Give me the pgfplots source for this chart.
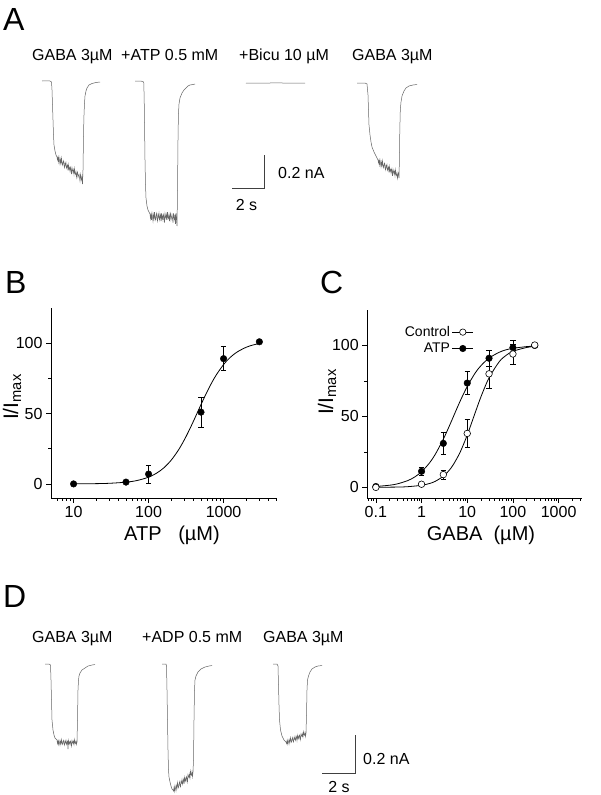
\documentclass[border=0pt]{standalone}
\usepackage{pgfplots}
\pgfplotsset{compat=1.18}
\usepackage{fontspec}
\setmainfont{Liberation Sans}
\newcommand{\fs}[1]{\fontsize{#1}{#1}\selectfont}
\pgfplotsset{
  trace/.style={black!60, line width=0.5pt},
  scalebar/.style={black!75, line width=0.7pt},
  dr/.style={scale only axis, axis x line*=bottom, axis y line*=left,
    axis line style={-, line width=0.8pt}, tick align=outside,
    major tick length=5pt, minor tick length=3pt,
    every tick/.style={black, line width=0.6pt},
    tick label style={font=\fs{16}}, /pgf/number format/assume math mode=true,
    ytick={0,50,100}, minor ytick={25,75}, clip=false},
  fit/.style={black, line width=0.8pt, smooth},
  ebar/.style={error bars/.cd, y dir=both, y explicit,
    error bar style={line width=0.6pt, black},
    error mark options={rotate=90, mark size=2.6pt, line width=0.6pt, black}},
}
\tikzset{lab/.style={inner sep=0pt, font=\fs{16}}}
\begin{document}
\begin{tikzpicture}[x=1pt,y=1pt]
\useasboundingbox (0,0) rectangle (600,795);
% ---------- background axis in pixel coordinates (traces, labels) ----------
\begin{axis}[at={(0pt,0pt)}, anchor=south west, width=600pt, height=795pt, scale only axis,
  xmin=0, xmax=600, ymin=0, ymax=795, y dir=reverse, hide axis, clip=false]
% Panel A traces
\addplot[trace] coordinates {(42,81)(46,80.8)(50,81)(51.5,82)(52,90)(52.5,105)(53,120)(53.5,135)(54,145)(55,151)(56,155)(57,157)
 (57.5,160)(58,157.4)(58.5,161.8)(59,157.2)(59.5,160.6)(60,164)(60.5,159.4)(61,162.8)(61.5,158.2)(62,162.6)(62.5,165)(63,162.4)(63.5,160.8)(64,165.2)(64.5,167.6)(65,163)(65.5,165.4)(66,162.8)(66.5,168.2)(67,166.6)(67.5,165)(68,170.4)(68.5,164.8)(69,169.2)(69.5,167.6)(70,171)(70.5,167.4)(71,169.8)(71.5,174.2)(72,167.6)(72.5,170)(73,172.4)(73.5,169.8)(74,174.2)(74.5,168.6)(75,173)(75.5,174.4)(76,171.8)(76.5,177.2)(77,173.6)(77.5,172)(78,177.4)(78.5,175.8)(79,174.2)(79.5,177.6)(80,181)(80.5,174.4)(81,177.8)(81.5,180.2)(82,176.6)(82.5,184)
 (83,170)(83.3,150)(83.6,130)(84,115)(84.5,103)(85,96)(86,91)(87,88)(89,85)(92,83.5)(96,82.5)(100,82)};
\addplot[trace] coordinates {(135,81)(140,81)(143,81.5)(143.8,83)(144.2,100)(144.6,130)(145,160)(145.5,185)(146,198)(147,206)(148,210)(150,214)
 (150.5,218.6)(151,214.7)(151.5,219.9)(152,213.4)(152.5,217.3)(153,221.2)(153.5,214.7)(154,218.6)(154.5,212.1)(155,217.3)(155.5,219.9)(156,216)(156.5,213.4)(157,218.6)(157.5,221.2)(158,214.7)(158.5,217.3)(159,213.4)(159.5,219.9)(160,217.3)(160.5,214.7)(161,221.2)(161.5,213.4)(162,218.6)(162.5,216)(163,219.9)(163.5,214.7)(164,217.3)(164.5,222.5)(165,213.4)(165.5,216)(166,218.6)(166.5,214.7)(167,219.9)(167.5,212.1)(168,217.3)(168.5,218.6)(169,214.7)(169.5,221.2)(170,216)(170.5,213.4)(171,219.9)(171.5,217.3)(172,214.7)(172.5,218.6)(173,222.5)(173.5,213.4)(174,217.3)(174.5,219.9)(175,214.7)(175.5,223.8)(176,213.4)(176.5,219.9)(177,226)
 (177.4,200)(177.7,170)(178,140)(178.4,115)(179,104)(180,98)(182,93)(184,90)(186,88)(188,86)(190,85)(193,84.5)(195,84)};
\addplot[trace] coordinates {(246,83)(260,83.2)(275,82.9)(290,83.1)(305,83)};
\addplot[trace] coordinates {(357,83)(365,83)(367,84)(368,95)(368.5,110)(369,125)(370,135)(371,142)(372,147)(374,152)(376,156)(378,160)
 (378.5,163)(379,160.35)(379.5,164.7)(380,160.05)(380.5,163.4)(381,166.75)(381.5,162.1)(382,165.45)(382.5,160.8)(383,165.15)(383.5,167.5)(384,164.85)(384.5,163.2)(385,167.55)(385.5,169.9)(386,165.25)(386.5,167.6)(387,164.95)(387.5,170.3)(388,168.65)(388.5,167)(389,172.35)(389.5,166.7)(390,171.05)(390.5,169.4)(391,172.75)(391.5,169.1)(392,171.45)(392.5,175.8)(393,169.15)(393.5,171.5)(394,173.85)(394.5,171.2)(395,175.55)(395.5,169.9)(396,174.25)(396.5,175.6)(397,172.95)(397.5,178.3)(398,174.65)(398.5,173)(399,178)
 (399.4,160)(399.8,130)(400.3,110)(401,102)(402,96)(404,91)(406,88)(409,86)(413,85)(417,84.5)};
% scale bar A
\addplot[scalebar] coordinates {(232,188)(264,188)(264,155)};
% Panel D traces
\addplot[trace] coordinates {(45,664)(49,664)(50.5,665)(51,680)(51.5,700)(52,720)(53,730)(54,735)(55,738)(57,740)
 (57.5,743.6)(58,741.2)(58.5,744.4)(59,740.4)(59.5,742.8)(60,745.2)(60.5,741.2)(61,743.6)(61.5,739.6)(62,742.8)(62.5,744.4)(63,742)(63.5,740.4)(64,743.6)(64.5,745.2)(65,741.2)(65.5,742.8)(66,740.4)(66.5,744.4)(67,742.8)(67.5,741.2)(68,749)(68.5,740.4)(69,743.6)(69.5,742)(70,744.4)(70.5,741.2)(71,742.8)(71.5,746)(72,740.4)(72.5,742)(73,743.6)(73.5,741.2)(74,744.4)(74.5,739.6)(75,742.8)(75.5,743.6)(76,741.2)(76.5,744.4)(77,742)
 (77.5,720)(78,690)(78.5,680)(79,676)(80,673)(82,670)(85,668)(88,666)(92,665)(95,664.5)};
\addplot[trace] coordinates {(162,664)(166,664)(166.5,666)(167,690)(167.5,720)(168,750)(168.5,770)(169,777)(170,782)(171,786)(172,789)(173,790)
 (173.5,791)(174,787.57)(174.5,791.13)(175,785.7)(175.5,788.26)(176,790.83)(176.5,785.4)(177,787.96)(177.5,782.5)(178,786.1)(178.5,787.65)(179,784.2)(179.5,781.8)(180,785.35)(180.5,786.9)(181,781.5)(181.5,783)(182,779.6)(182.5,784.2)(183,781.7)(183.5,779.3)(184,783.9)(184.5,777.4)(185,781)(185.5,778.6)(186,781.1)(186.5,776.7)(187,778.3)(187.5,781.8)(188,774.4)(188.5,776)(189,777.5)(189.5,774.1)(190,777.7)(190.5,771.2)(191,774.8)(191.5,775.4)(192,771.9)(192.5,776.5)(193,772)
 (193.5,760)(194,720)(194.5,690)(195,680)(196,676)(198,672)(201,669)(205,667)(209,666)(212,665.5)};
\addplot[trace] coordinates {(273,664)(277,664)(278,666)(278.5,685)(279,705)(279.5,720)(280.5,730)(282,736)(284,740)(286,742)
 (286.5,743.6)(287,740.97)(287.5,743.94)(288,739.71)(288.5,741.88)(289,744.05)(289.5,739.82)(290,741.99)(290.5,737.76)(291,740.73)(291.5,742.1)(292,739.47)(292.5,737.64)(293,740.61)(293.5,741.98)(294,737.75)(294.5,739.12)(295,736.49)(295.5,740.26)(296,738.43)(296.5,736.6)(297,740.37)(297.5,735.34)(298,738.31)(298.5,736.48)(299,738.65)(299.5,735.22)(300,736.59)(300.5,739.56)(301,733.73)(301.5,735.1)(302,736.47)(302.5,733.84)(303,736.81)(303.5,731.78)(304,734.75)(304.5,735.32)(305,732.69)(305.5,736.46)(306,733)
 (306.5,715)(307,690)(307.5,680)(308.5,676)(310,672)(312,669)(315,667)(318,666)(322,665.5)};
% scale bar D
\addplot[scalebar] coordinates {(322,773)(355.7,773)(355.7,735)};
% Panel letters
\node[lab, anchor=base west, font=\fs{32}] at (axis cs:3,30) {A};
\node[lab, anchor=base west, font=\fs{32}] at (axis cs:5,293) {B};
\node[lab, anchor=base west, font=\fs{32}] at (axis cs:320,293) {C};
\node[lab, anchor=base west, font=\fs{32}] at (axis cs:3,607) {D};
% Panel A labels
\node[lab, anchor=base west] at (axis cs:32,60) {GABA 3µM};
\node[lab, anchor=base west] at (axis cs:121,60) {+ATP 0.5 mM};
\node[lab, anchor=base west] at (axis cs:239,60) {+Bicu 10 µM};
\node[lab, anchor=base west] at (axis cs:352,60) {GABA 3µM};
\node[lab, anchor=west] at (axis cs:278,173) {0.2 nA};
\node[lab, anchor=center] at (axis cs:246.5,205) {2 s};
% Panel D labels
\node[lab, anchor=base west] at (axis cs:32,642) {GABA 3µM};
\node[lab, anchor=base west] at (axis cs:142,642) {+ADP 0.5 mM};
\node[lab, anchor=base west] at (axis cs:263,642) {GABA 3µM};
\node[lab, anchor=west] at (axis cs:363,759) {0.2 nA};
\node[lab, anchor=center] at (axis cs:339,787) {2 s};
% axis titles of B and C
\node[lab, anchor=center, font=\fs{20}] at (axis cs:172,535) {ATP\ \ \ (µM)};
\node[lab, anchor=center, font=\fs{20}] at (axis cs:481,535) {GABA\ \ (µM)};
\node[lab, rotate=90, anchor=base, font=\fs{21}] at (axis cs:18,397) {I/I\textsubscript{max}};
\node[lab, rotate=90, anchor=base, font=\fs{21}] at (axis cs:333,392) {I/I\textsubscript{max}};
\end{axis}
% ---------- Panel B ----------
\begin{axis}[dr, at={(51pt,297pt)}, anchor=south west, width=225pt, height=190pt,
  xmode=log, xmin=5, xmax=5000, ymin=-10, ymax=125,
  xtick={10,100,1000}, xticklabels={10,100,1000},
  minor xtick={6,7,8,9,20,30,40,50,60,70,80,90,200,300,400,500,600,700,800,900,2000,3000,4000,5000}]
\addplot[fit] coordinates {(10,0.05)(20,0.2)(30,0.45)(50,1.24)(70,2.41)(100,4.79)(130,7.89)(160,11.45)(200,16.83)(250,24.05)(300,31.38)(350,38.45)(400,45.02)(450,51)(500,56.35)(600,65.28)(700,72.18)(800,77.48)(1000,84.82)(1200,89.43)(1500,93.58)(2000,97.09)(2500,98.80)(3000,99.76)};
\addplot[only marks, mark=*, mark size=3.3pt, black, ebar] coordinates {
 (10,0) +- (0,0)
 (50,1.3) +- (0,0)
 (100,7) +- (0,6.5)
 (500,51) +- (0,10.5)
 (1000,89) +- (0,8.5)
 (3000,101) +- (0,1)};
\end{axis}
% ---------- Panel C ----------
\begin{axis}[dr, at={(367.3pt,297pt)}, anchor=south west, width=214.4pt, height=188pt,
  xmode=log, xmin=0.065, xmax=3200, ymin=-7.5, ymax=125,
  xtick={0.1,1,10,100,1000}, xticklabels={0.1,1,10,100,1000},
  minor xtick={0.07,0.08,0.09,0.2,0.3,0.4,0.5,0.6,0.7,0.8,0.9,2,3,4,5,6,7,8,9,20,30,40,50,60,70,80,90,200,300,400,500,600,700,800,900,2000,3000},
  legend style={at={(rel axis cs:0.165,0.925)}, anchor=north west, draw=none, fill=none,
    font=\fs{14}, row sep=1pt, inner sep=0pt},
  legend plot pos=right, legend cell align=right,
  legend image code/.code={\draw[mark repeat=2, mark phase=2, #1] plot coordinates {(0pt,0pt) (10.5pt,0pt) (21pt,0pt)};}]
\addlegendimage{black, line width=0.6pt, mark=*, mark size=3.2pt, mark options={fill=white, draw=black}}
\addlegendentry{Control\hspace{2pt}}
\addlegendimage{black, line width=0.6pt, mark=*, mark size=3.2pt}
\addlegendentry{ATP\hspace{2pt}}
\addplot[fit, forget plot] coordinates {(0.1,0.61)(0.2,1.50)(0.3,2.51)(0.5,4.77)(0.7,7.20)(1,10.98)(1.5,17.3)(2,23.3)(3,34.0)(4,42.8)(5,50)(7,60.8)(10,71.1)(15,80.7)(20,85.8)(30,91.1)(50,95.2)(70,96.9)(100,98.0)(200,99.2)(300,99.5)};
\addplot[fit, forget plot] coordinates {(0.1,0.04)(0.3,0.21)(0.5,0.48)(1,1.45)(1.5,2.73)(2,4.26)(3,7.84)(4,11.9)(5,16.2)(7,24.8)(10,36.9)(15,52.8)(20,63.9)(30,77.2)(50,88.5)(70,92.9)(100,95.9)(200,98.6)(300,99.3)};
\addplot[forget plot, only marks, mark=*, mark size=3.3pt, black, ebar] coordinates {
 (0.1,0.6) +- (0,0.5)
 (1,11.3) +- (0,3)
 (3,31) +- (0,7.5)
 (10,73.5) +- (0,8)
 (30,91) +- (0,5.5)
 (100,98.5) +- (0,5)
 (300,100) +- (0,1)};
\addplot[forget plot, only marks, mark=*, mark size=3.3pt, black, mark options={line width=0.6pt, fill=white, draw=black}, ebar] coordinates {
 (0.1,0) +- (0,0.5)
 (1,2.2) +- (0,1.5)
 (3,9) +- (0,3)
 (10,38) +- (0,10)
 (30,80) +- (0,10)
 (100,94) +- (0,7)
 (300,100.3) +- (0,1)};
\end{axis}
\end{tikzpicture}
\end{document}
